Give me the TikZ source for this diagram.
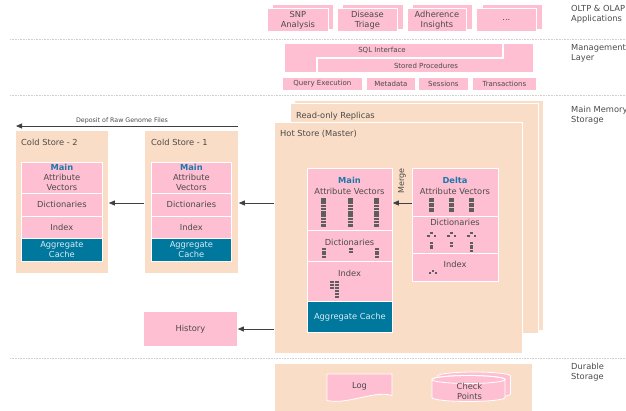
\documentclass[tikz,border=0pt]{standalone}
\usepackage{fontspec}
\setmainfont{DejaVu Sans}
\usetikzlibrary{arrows.meta}
\definecolor{pk}{HTML}{FFBFD2}
\definecolor{pc}{HTML}{FADDC6}
\definecolor{tl}{HTML}{00789E}
\definecolor{tlt}{HTML}{D8ECF3}
\definecolor{tx}{HTML}{4A4A4A}
\definecolor{bl}{HTML}{1F78AA}
\definecolor{ic}{HTML}{5E5E5E}
\definecolor{dl}{HTML}{CFCFCF}
\definecolor{ar}{HTML}{404040}
\newcommand\rbox[7]{\node[#1, minimum width={#4-#2}, minimum height={#5-#3}] (#6) at (#2,#3) {#7};}
\newcommand\stk[6]{\foreach \i in {1,...,#3} {\fill[ic] ({#1-#4/2},{#2+(\i-1)*#5}) rectangle ++(#4,#6);}}
\newcommand\tre[2]{\fill[ic] ({#1-1.1},#2) rectangle ++(2.2,2.2);
  \fill[ic] ({#1-4.2},{#2+2.6}) rectangle ++(2.2,2.2);
  \fill[ic] ({#1+2},{#2+2.6}) rectangle ++(2.2,2.2);}
\begin{document}
\begin{tikzpicture}[x=1pt,y=-1pt,
  box/.style={draw=white, line width=0.8pt, inner sep=0pt, anchor=north west, text=tx, align=center, font=\fontsize{8.3}{10}\selectfont},
  pbox/.style={box, fill=pk},
  cbox/.style={box, fill=pc},
  tbox/.style={box, fill=tl, text=tlt},
  mbox/.style={pbox, font=\fontsize{7}{8}\selectfont},
  lab/.style={text=tx, inner sep=0pt, align=left, font=\fontsize{8.3}{10}\selectfont},
  slab/.style={lab, font=\fontsize{7}{8}\selectfont},
  ttl/.style={lab, text=bl, font=\fontsize{8.3}{10}\selectfont\bfseries},
  arr/.style={draw=ar, line width=0.8pt, -{Triangle[length=6pt,width=5pt]}},
  sep/.style={draw=dl, line width=0.8pt, dash pattern=on 0.8pt off 0.8pt}]
\useasboundingbox (0,0) rectangle (626,410);
% separators
\draw[sep] (10,39) -- (626,39);
\draw[sep] (10,95) -- (626,95);
\draw[sep] (10,358) -- (626,358);
% layer labels
\node[lab, anchor=west] (l1) at (571,14) {OLTP \& OLAP\\Applications};
\node[lab, anchor=west] (l2) at (571,53.5) {Management\\Layer};
\node[lab, anchor=west] (l3) at (571,115) {Main Memory\\Storage};
\node[lab, anchor=west] (l4) at (571,372) {Durable\\Storage};
% applications
\rbox{pbox}{272}{4}{333}{29}{a1b}{}
\rbox{pbox}{267}{8}{328}{31}{a1}{SNP\\Analysis}
\rbox{pbox}{342}{4}{403}{29}{a2b}{}
\rbox{pbox}{337}{8}{397}{31}{a2}{Disease\\Triage}
\rbox{pbox}{412}{4}{472}{29}{a3b}{}
\rbox{pbox}{407}{8}{466}{31}{a3}{Adherence\\Insights}
\rbox{pbox}{482}{4}{542}{29}{a4b}{}
\rbox{pbox}{476}{8}{536}{31}{a4}{...}
% management layer
\path[fill=pk, draw=white, line width=0.8pt] (284,43) -- (502,43) -- (502,57) -- (316,57) -- (316,72) -- (284,72) -- cycle;
\node[slab] (sql) at (382,50) {SQL Interface};
\path[fill=pk, draw=white, line width=0.8pt] (503.5,43) -- (533,43) -- (533,72) -- (317.5,72) -- (317.5,58.5) -- (503.5,58.5) -- cycle;
\node[slab] (sp) at (426,66) {Stored Procedures};
\rbox{mbox}{282}{77}{362}{90}{qe}{Query Execution}
\rbox{mbox}{366}{77}{415}{90}{md}{Metadata}
\rbox{mbox}{418}{77}{468}{90}{ss}{Sessions}
\rbox{mbox}{472}{77}{536}{90}{tr}{Transactions}
% replicas and hot store
\rbox{cbox}{294}{100}{543}{330}{rep2}{}
\rbox{cbox}{290}{103}{538}{333}{rep1}{}
\node[lab, anchor=west] (reptxt) at (296,116) {Read-only Replicas};
\rbox{cbox}{274}{122}{522}{353}{hot}{}
\node[lab, anchor=west] (hottxt) at (280,134) {Hot Store (Master)};
% main
\rbox{pbox}{307}{168}{392}{230}{mav}{}
\rbox{pbox}{307}{230}{392}{261}{mdict}{}
\rbox{pbox}{307}{261}{392}{301}{midx}{}
\rbox{tbox}{307}{301}{392}{332}{magg}{Aggregate Cache}
\node[ttl] (mt) at (349.5,180) {Main};
\node[lab] (mavt) at (349.5,191) {Attribute Vectors};
\node[lab] (mdt) at (349.5,242) {Dictionaries};
\node[lab] (mit) at (349.5,273) {Index};
\stk{323.5}{198}{9}{4.5}{3.25}{2.5}
\stk{350.5}{198}{9}{4.5}{3.25}{2.5}
\stk{376.5}{198}{9}{4.5}{3.25}{2.5}
\stk{323.5}{248}{4}{4}{2.6}{1.9}
\stk{350.5}{248}{2}{4}{2.6}{1.9}
\stk{376.5}{248}{4}{4}{2.6}{1.9}
\stk{332.2}{281}{3}{4}{2.9}{2.2}
\stk{337.3}{281}{6}{4}{2.9}{2.2}
% delta
\rbox{pbox}{412}{168}{498}{216}{dav}{}
\rbox{pbox}{412}{216}{498}{253}{ddict}{}
\rbox{pbox}{412}{253}{498}{281}{didx}{}
\node[ttl] (dt) at (455,180) {Delta};
\node[lab] (davt) at (455,191) {Attribute Vectors};
\node[lab] (ddt) at (455,222) {Dictionaries};
\node[lab] (dit) at (455,264) {Index};
\stk{431.5}{198}{3}{4.5}{5}{4.2}
\stk{451.5}{198}{3}{4.5}{5}{4.2}
\stk{471.5}{198}{3}{4.5}{5}{4.2}
\tre{431.5}{232}
\tre{451.5}{232}
\tre{471.5}{232}
\stk{431.5}{242}{3}{3.6}{2.6}{1.9}
\stk{451.5}{242}{2}{3.6}{2.6}{1.9}
\stk{471.5}{242}{4}{3.6}{2.6}{1.9}
\tre{433}{269.5}
% merge
\node[lab, rotate=90, font=\fontsize{8}{9}\selectfont] (mg) at (402,181) {Merge};
\coordinate (y203) at (0,203);
\draw[arr] (dav.west |- y203) -- (mav.east |- y203);
% cold store 1
\rbox{cbox}{144}{130}{238}{273}{c1}{}
\node[lab, anchor=west] (c1t) at (151,142) {Cold Store - 1};
\rbox{pbox}{151}{162}{231}{193}{c1av}{\textcolor{bl}{\bfseries Main}\\Attribute\\Vectors}
\rbox{pbox}{151}{193}{231}{216}{c1d}{Dictionaries}
\rbox{pbox}{151}{216}{231}{238}{c1i}{Index}
\rbox{tbox}{151}{238}{231}{261}{c1a}{Aggregate\\Cache}
% cold store 2
\rbox{cbox}{15}{130}{108}{273}{c2}{}
\node[lab, anchor=west] (c2t) at (21,142) {Cold Store - 2};
\rbox{pbox}{21}{162}{102}{193}{c2av}{\textcolor{bl}{\bfseries Main}\\Attribute\\Vectors}
\rbox{pbox}{21}{193}{102}{216}{c2d}{Dictionaries}
\rbox{pbox}{21}{216}{102}{238}{c2i}{Index}
\rbox{tbox}{21}{238}{102}{261}{c2a}{Aggregate\\Cache}
% history
\rbox{pbox}{143}{311}{237}{346}{hist}{History}
% arrows
\draw[arr] (hot.west |- y203) -- (c1.east |- y203);
\draw[arr] (c1.west |- y203) -- (c2.east |- y203);
\coordinate (y329) at (0,329);
\draw[arr] (hot.west |- y329) -- (hist.east |- y329);
\coordinate (dep1) at (238,126);
\coordinate (dep2) at (16,126);
\draw[arr] (dep1) -- (dep2);
\node[lab, font=\fontsize{6.3}{7}\selectfont] (dept) at (122,120.5) {Deposit of Raw Genome Files};
% durable storage
\rbox{cbox}{274}{363}{532}{414}{dur}{}
\path[fill=pk, draw=white, line width=0.8pt] (327,374) -- (392,374) -- (392,395.5) .. controls (374,390) and (348,405) .. (327,400.5) -- cycle;
\node[lab] (log) at (359.5,386) {Log};
% check points cylinders
\path[fill=pk, draw=white, line width=0.8pt] (437.5,376) -- (437.5,394) arc[start angle=180, end angle=360, x radius=36.5pt, y radius=4pt] -- (510.5,376) arc[start angle=0, end angle=180, x radius=36.5pt, y radius=4pt] -- cycle;
\path[fill=pk, draw=white, line width=0.8pt] (432,379.5) -- (432,397.5) arc[start angle=180, end angle=360, x radius=36.5pt, y radius=4pt] -- (505,379.5) arc[start angle=0, end angle=180, x radius=36.5pt, y radius=4pt] -- cycle;
\draw[white, line width=0.8pt] (468.5,379.5) ellipse[x radius=36.5pt, y radius=4pt];
\node[lab, align=center] (cp) at (469.5,391) {Check\\Points};
\end{tikzpicture}
\end{document}
